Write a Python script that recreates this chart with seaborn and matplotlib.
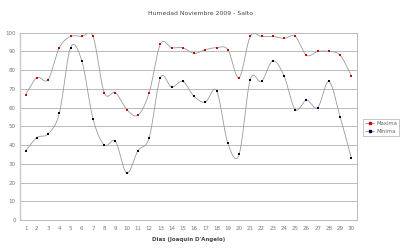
import numpy as np
import pandas as pd
import matplotlib
matplotlib.use("Agg")
import matplotlib.pyplot as plt
import seaborn as sns
from matplotlib.lines import Line2D

dias = list(range(1, 31))
maxima = [67, 76, 75, 92, 98, 98, 98, 68, 68, 59, 56, 68, 94, 92, 92,
          89, 91, 92, 91, 76, 98, 98, 98, 97, 98, 88, 90, 90, 88, 77]
minima = [37, 44, 46, 57, 92, 85, 54, 40, 42, 25, 37, 44, 76, 71, 74,
          66, 63, 69, 41, 35, 75, 74, 85, 77, 59, 64, 60, 74, 55, 33]
titulo = "Humedad Noviembre 2009 - Salto"
xlabel = "Dias (Joaquin D'Angelo)"


def smooth(x, y, n=20):
    # Catmull-Rom smoothing for display (like Excel "smoothed line")
    x = np.asarray(x, float)
    y = np.asarray(y, float)
    px = np.concatenate([[2 * x[0] - x[1]], x, [2 * x[-1] - x[-2]]])
    py = np.concatenate([[2 * y[0] - y[1]], y, [2 * y[-1] - y[-2]]])
    xs, ys = [], []
    t = np.linspace(0, 1, n, endpoint=False)
    for i in range(1, len(px) - 2):
        for P, out in ((px, xs), (py, ys)):
            p0, p1, p2, p3 = P[i - 1], P[i], P[i + 1], P[i + 2]
            out.extend(0.5 * ((2 * p1) + (-p0 + p2) * t
                              + (2 * p0 - 5 * p1 + 4 * p2 - p3) * t ** 2
                              + (-p0 + 3 * p1 - 3 * p2 + p3) * t ** 3))
    xs.append(x[-1])
    ys.append(y[-1])
    return np.array(xs), np.array(ys)


sns.set_style("white")
plt.rcParams['font.family'] = ['DejaVu Sans']

fig = plt.figure(figsize=(4.0, 2.49), dpi=100)
ax = fig.add_axes([0.05, 0.1165, 0.8425, 0.752])

line_col = "#9a9a9a"
for vals, mcol in ((maxima, "#cc0000"), (minima, "#000033")):
    sx, sy = smooth(dias, vals)
    sns.lineplot(x=sx, y=sy, ax=ax, color=line_col, lw=0.6, sort=False,
                 estimator=None)
    sns.scatterplot(x=dias, y=vals, ax=ax, color=mcol, marker="s", s=3.5,
                    linewidth=0, zorder=3)

ax.set_xlim(0.5, 30.5)
ax.set_ylim(0, 100)
ax.set_yticks(range(0, 101, 10))
ax.set_xticks(dias)
ax.grid(axis="y", color="#b0b0b0", lw=0.6)
ax.set_axisbelow(True)
ax.spines["top"].set_visible(False)
for side in ("left", "bottom", "right"):
    ax.spines[side].set_color("#b0b0b0")
    ax.spines[side].set_linewidth(0.6)
ax.spines["left"].set_linewidth(1.0)
ax.spines["left"].set_color("#c8c8c8")
ax.tick_params(axis="both", labelsize=4, colors="#777777", length=0, pad=3)
ax.tick_params(axis="x", length=1.5, color="#b0b0b0", direction="out")
ax.set_xlabel(xlabel, fontsize=4, color="#444444", fontweight="bold", labelpad=4)
ax.set_ylabel("")
fig.text(0.5, 0.945, titulo, ha="center", va="center", fontsize=4.4,
         color="#444444")

handles = [Line2D([], [], color=line_col, lw=0.6, marker="s", markersize=1.6,
                  markerfacecolor="#cc0000", markeredgecolor="#cc0000"),
           Line2D([], [], color=line_col, lw=0.6, marker="s", markersize=1.6,
                  markerfacecolor="#000033", markeredgecolor="#000033")]
leg = fig.legend(handles, ["Maxima", "Minima"], loc="upper left",
                 bbox_to_anchor=(0.9, 0.532), fontsize=3.8, frameon=True,
                 fancybox=False, borderpad=0.4, handlelength=1.8,
                 handletextpad=0.4, labelspacing=0.5, labelcolor="#666666")
leg.get_frame().set_edgecolor("#999999")
leg.get_frame().set_linewidth(0.5)

fig.savefig("out.png", dpi=100)
